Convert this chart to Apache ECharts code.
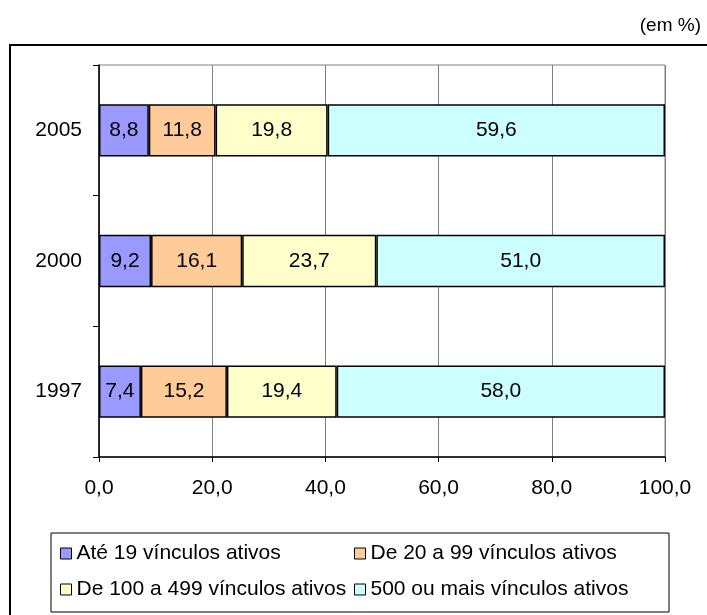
<!DOCTYPE html>
<html>
<head>
<meta charset="utf-8">
<script src="https://cdn.jsdelivr.net/npm/echarts@6/dist/echarts.min.js"></script>
<style>
  html, body { margin: 0; padding: 0; background: #fff; }
  #chart { width: 707px; height: 615px; }
</style>
</head>
<body>
<div id="chart"></div>
<script>
// Share of active employment links by establishment size (em %)
var years = ['1997', '2000', '2005'];
var seriesNames = [
  'Até 19 vínculos ativos',
  'De 20 a 99 vínculos ativos',
  'De 100 a 499 vínculos ativos',
  '500 ou mais vínculos ativos'
];
var ate19 = [7.4, 9.2, 8.8];
var de20a99 = [15.2, 16.1, 11.8];
var de100a499 = [19.4, 23.7, 19.8];
var de500mais = [58.0, 51.0, 59.6];
var xTicks = [0, 20, 40, 60, 80, 100];

var colors = ['#9999FF', '#FFCC99', '#FFFFCC', '#CCFFFF'];
var values = [ate19, de20a99, de100a499, de500mais];
var FONT = 'Liberation Sans, Arial, sans-serif';
var FS = 21;

function fmt(v) { return Number(v).toFixed(1).replace('.', ','); }

var series = seriesNames.map(function (name, i) {
  return {
    name: name,
    type: 'bar',
    stack: 'total',
    barCategoryGap: '60%',
    data: values[i],
    itemStyle: { color: colors[i], borderColor: '#000', borderWidth: 1.5 },
    label: {
      show: true,
      position: 'inside',
      color: '#000',
      fontFamily: FONT,
      fontSize: FS,
      formatter: function (p) { return fmt(p.value); }
    },
    emphasis: { disabled: true }
  };
});

function legendAt(names, left, top) {
  return {
    data: names,
    orient: 'vertical',
    left: left,
    top: top,
    itemGap: 15,
    itemWidth: 11,
    itemHeight: 11,
    icon: 'rect',
    itemStyle: { borderColor: '#000', borderWidth: 1 },
    textStyle: { color: '#000', fontFamily: FONT, fontSize: FS, lineHeight: 20 },
    selectedMode: false
  };
}

var chart = echarts.init(document.getElementById('chart'), null, { renderer: 'canvas' });
chart.setOption({
  animation: false,
  backgroundColor: '#fff',
  color: colors,
  grid: {
    left: 99, right: 42, top: 65, bottom: 158,
    show: true, borderColor: '#808080', borderWidth: 1,
    containLabel: false
  },
  graphic: [
    {
      type: 'rect',
      shape: { x: 10, y: 45, width: 720, height: 600 },
      style: { fill: null, stroke: '#000', lineWidth: 2 },
      silent: true
    },
    {
      type: 'rect',
      shape: { x: 51, y: 533, width: 618, height: 79 },
      style: { fill: null, stroke: '#000', lineWidth: 1 },
      silent: true
    },
    {
      type: 'text',
      right: 6,
      top: 16,
      style: { text: '(em %)', fill: '#000', font: '19px ' + FONT }
    }
  ],
  legend: [
    legendAt([seriesNames[0], seriesNames[2]], 55, 538),
    legendAt([seriesNames[1], seriesNames[3]], 349, 538)
  ],
  xAxis: {
    type: 'value',
    min: xTicks[0],
    max: xTicks[xTicks.length - 1],
    interval: xTicks[1] - xTicks[0],
    axisLine: { show: true, lineStyle: { color: '#000', width: 1.5 } },
    axisTick: { show: true, length: 5, inside: false, lineStyle: { color: '#000' } },
    axisLabel: {
      color: '#000', fontFamily: FONT, fontSize: FS, margin: 21,
      formatter: function (v) { return fmt(v); }
    },
    splitLine: { show: true, lineStyle: { color: '#808080', width: 1 } }
  },
  yAxis: {
    type: 'category',
    data: years,
    axisLine: { show: true, lineStyle: { color: '#000', width: 1.5 } },
    axisTick: { show: true, length: 6, lineStyle: { color: '#000' } },
    axisLabel: { color: '#000', fontFamily: FONT, fontSize: FS, margin: 17 },
    splitLine: { show: false }
  },
  series: series
});
</script>
</body>
</html>
